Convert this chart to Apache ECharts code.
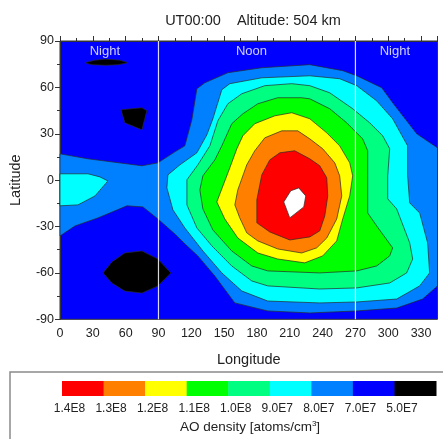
<!DOCTYPE html>
<html>
<head>
<meta charset="utf-8">
<script src="https://cdn.jsdelivr.net/npm/echarts@6/dist/echarts.min.js"></script>
<style>
html,body{margin:0;padding:0;background:#fff;}
#chart{width:443px;height:439px;}
</style>
</head>
<body>
<div id="chart"></div>
<script>
// ---- Data (longitude, latitude) ----
const xTicks = [0, 30, 60, 90, 120, 150, 180, 210, 240, 270, 300, 330];
const yTicks = [-90, -60, -30, 0, 30, 60, 90];
const legendLabels = ['1.4E8', '1.3E8', '1.2E8', '1.1E8', '1.0E8', '9.0E7', '8.0E7', '7.0E7', '5.0E7'];
const legendColors = ['#ff0000', '#ff8000', '#ffff00', '#00ff00', '#00ff80', '#00ffff', '#0080ff', '#0000ff', '#000000'];
const terminatorLons = [90, 270];
const regionLabels = [['Night', 41, 83], ['Noon', 175, 83], ['Night', 306, 83]];

// contour regions (outer to inner)
const contour8E7 = [[0,17.0],[25.6,13.8],[74.9,9.3],[89.5,11.2],[105,18.3],[114.1,22.2],[120.5,39.0],[125.1,59.1],[132.4,63.0],[153.4,69.5],[184.4,72.7],[228.3,74.7],[258.4,70.8],[271.2,67.5],[294,59.8],[304,50.1],[326,30.0],[345,20.9],[345,-68.4],[331.4,-76.9],[307.7,-82.7],[271.2,-84.6],[228.3,-85.9],[189.9,-84.6],[159.8,-79.4],[141.5,-62.0],[126,-49.0],[114.1,-41.2],[105,-34.8],[89.5,-25.1],[75.8,-17.3],[61.2,-16.6],[34.7,-24.4],[13.7,-29.6],[0,-36.1]];
const contour9E7West = [[0,4.1],[25.6,4.1],[36.5,2.1],[43.8,-0.5],[32,-10.2],[16.4,-16],[0,-16.6]];
const contour9E7 = [[155.2,62.4],[147.9,58.5],[139.7,39.7],[134.2,29.3],[125.1,17.7],[109.6,9.9],[98.6,3.4],[97.7,-5.0],[103.2,-19.2],[114.1,-30.9],[130.6,-45.8],[147.9,-60.0],[166.2,-71.7],[189.9,-78.2],[237.4,-79.4],[271.2,-78.8],[307.7,-76.9],[328.7,-68.4],[337.8,-60],[336,-40.6],[328.7,-21.2],[319.6,-14.7],[317.7,2.8],[317.7,22.2],[304,39.7],[289.4,51.3],[271.2,61.1],[255.6,65.6],[228.3,67.5],[184.4,66.2]];
const contour10E7 = [[166.2,55.9],[153.4,49.4],[144.3,38.4],[137,22.2],[126,9.9],[116,0.2],[116,-16.0],[125.1,-30.9],[138.8,-42.5],[157,-55.5],[175.3,-65.2],[189.9,-68.4],[237.4,-70.4],[271.2,-69.7],[301.3,-66.5],[316.8,-60],[322.3,-51.0],[319.6,-40.6],[307.7,-18.6],[299.5,-12.1],[299.5,2.8],[301.3,20.3],[294.9,28.7],[283,37.1],[267.5,46.2],[246.5,56.5],[228.3,61.1],[211.8,62.4],[187.2,61.1]];
const contour11E7 = [[180.8,49.4],[167.1,42.9],[157,36.5],[147.9,22.2],[141.5,13.1],[130.6,2.8],[127.8,-6.3],[130.6,-18.6],[139.7,-32.2],[157,-45.8],[175.3,-55.5],[189.9,-58.7],[237.4,-60],[271.2,-58.7],[289.4,-55.5],[301.3,-49.0],[304,-43.8],[289.4,-29.6],[281.2,-21.2],[281.2,2.8],[281.2,19.0],[276.6,26.7],[262,37.1],[246.5,46.2],[228.3,52.6],[220.9,53.3],[199,53.3]];
const contour12E7 = [[178,36.5],[167.1,28.7],[161.6,20.3],[155.2,8.0],[143.3,-14.1],[150.6,-25.1],[162.5,-37.4],[180.8,-47.1],[199,-51.0],[223.7,-53.5],[240.1,-49.0],[252.9,-39.3],[258.4,-25.1],[264.8,-10.2],[267.5,2.8],[264.8,11.2],[255.6,22.2],[243.8,30.6],[228.3,39.7],[211.8,43.6],[196.3,41.6]];
const contour13E7 = [[187.2,27.4],[178,19.0],[170.7,9.9],[162.5,-6.3],[159.8,-16.0],[164.3,-24.4],[170.7,-34.1],[180.8,-39.3],[199,-44.5],[220.9,-47.1],[234.6,-43.8],[243.8,-37.4],[252.9,-25.1],[257.5,-10.2],[255.6,2.8],[251.1,11.2],[240.1,20.3],[228.3,26.7],[217.3,31.9],[202.7,31.9]];
const contour14E7 = [[200.9,17.7],[191.7,13.1],[184.4,3.4],[179.9,-12.8],[179.9,-27.6],[191.7,-33.5],[210,-38.7],[228.3,-36.7],[237.4,-32.8],[242,-23.1],[244.7,-10.2],[243.8,1.5],[237.4,9.3],[228.3,13.8],[214.5,19.0]];
const contourMax = [[204.5,-14.1],[210.9,-6.9],[218.2,-5.0],[224.6,-10.2],[222.8,-17.3],[210,-24.4]];
const lowNorth = [[22.8,75.9],[32,77.6],[42,78.2],[54.8,77.6],[62.1,75.9],[53,74.7],[42,74.3],[29.2,74.7]];
const lowMid = [[55.7,45.5],[74.9,46.8],[79.4,44.9],[74.9,32.6],[59.3,37.1]];
const lowSouth = [[39.3,-60],[47.5,-52.9],[59.3,-47.1],[74.9,-45.8],[89.5,-51.0],[101.3,-60],[89.5,-68.4],[74.9,-73],[59.3,-71.7],[47.5,-66.5]];

const polygons = [
  [contour8E7, '#0080ff'],
  [contour9E7West, '#00ffff'],
  [contour9E7, '#00ffff'],
  [contour10E7, '#00ff80'],
  [contour11E7, '#00ff00'],
  [contour12E7, '#ffff00'],
  [contour13E7, '#ff8000'],
  [contour14E7, '#ff0000'],
  [contourMax, '#ffffff'],
  [lowNorth, '#000000'],
  [lowMid, '#000000'],
  [lowSouth, '#000000']
];

const chart = echarts.init(document.getElementById('chart'), null, {renderer: 'canvas'});
const FONT = 'Liberation Sans, Arial, sans-serif';

const series = polygons.map(function (p) {
  const pts = p[0];
  return {
    type: 'custom',
    coordinateSystem: 'cartesian2d',
    silent: true,
    data: pts,
    encode: {x: 0, y: 1},
    renderItem: function (params, api) {
      if (params.dataIndex !== 0) return null;
      const points = pts.map(function (d) { return api.coord(d); });
      return {
        type: 'polygon',
        shape: {points: points},
        style: {fill: p[1], stroke: '#2a2a2a', lineWidth: 0.7}
      };
    }
  };
});

// terminator lines
series.push({
  type: 'custom',
  coordinateSystem: 'cartesian2d',
  silent: true,
  data: terminatorLons.map(function (l) { return [l, 0]; }),
  renderItem: function (params, api) {
    const lon = api.value(0);
    const a = api.coord([lon, 90]);
    const b = api.coord([lon, -90]);
    return {type: 'line', shape: {x1: a[0], y1: a[1], x2: b[0], y2: b[1]},
      style: {stroke: 'rgba(255,255,255,0.85)', lineWidth: 1.2}};
  }
});

// Night / Noon labels
series.push({
  type: 'scatter',
  silent: true,
  symbolSize: 0,
  data: regionLabels.map(function (r) { return {value: [r[1], r[2]], name: r[0]}; }),
  label: {show: true, position: 'inside', formatter: '{b}', color: '#ffffff', fontSize: 13, fontFamily: FONT}
});

// colour bar graphics
const barLeft = 62, barRight = 436, barTop = 381, barH = 15;
const bw = (barRight - barLeft) / legendColors.length;
const graphics = [
  {type: 'rect', shape: {x: 10, y: 372, width: 440, height: 80}, style: {fill: 'none', stroke: '#8a8a8a', lineWidth: 1.5}}
];
legendColors.forEach(function (c, i) {
  graphics.push({type: 'rect', shape: {x: barLeft + i * bw, y: barTop, width: bw + 0.5, height: barH}, style: {fill: c}});
  graphics.push({type: 'text', x: barLeft + i * bw + 7.5, y: 409,
    style: {text: legendLabels[i], fill: '#222', font: '12px ' + FONT, textAlign: 'center', textVerticalAlign: 'middle'}});
});
graphics.push({type: 'text', x: 250, y: 427,
  style: {text: 'AO density [atoms/cm{s|3}]', rich: {s: {fontSize: 8, verticalAlign: 'top', padding: [0, 0, 7, 0], fill: '#222'}},
    fill: '#222', font: '13.5px ' + FONT, textAlign: 'center', textVerticalAlign: 'middle'}});

const axisLineStyle = {color: '#333', width: 1};
chart.setOption({
  animation: false,
  title: {
    text: 'UT00:00    Altitude: 504 km',
    left: 248, top: 8, textAlign: 'center',
    textStyle: {fontSize: 14.5, fontWeight: 'normal', color: '#222', fontFamily: FONT}
  },
  grid: {left: 60, right: 5.5, top: 41, bottom: 119.7, show: true, backgroundColor: '#0000ff', borderColor: '#333', borderWidth: 1},
  xAxis: [{
    type: 'value', min: 0, max: 345, interval: 30,
    name: 'Longitude', nameLocation: 'middle', nameGap: 33,
    nameTextStyle: {fontSize: 14.5, color: '#222', fontFamily: FONT},
    axisLine: {show: true, lineStyle: axisLineStyle},
    axisTick: {show: true, inside: false, length: 5, lineStyle: axisLineStyle},
    minorTick: {show: true, splitNumber: 2, length: 3, lineStyle: axisLineStyle},
    axisLabel: {fontSize: 12.5, color: '#222', fontFamily: FONT, margin: 8,
      formatter: function (v) { return xTicks.indexOf(v) >= 0 ? String(v) : ''; }},
    splitLine: {show: false}
  }, {
    type: 'value', position: 'top', min: 0, max: 345, interval: 30,
    axisLine: {show: true, lineStyle: axisLineStyle},
    axisTick: {show: true, inside: false, length: 5, lineStyle: axisLineStyle},
    minorTick: {show: true, splitNumber: 2, length: 3, lineStyle: axisLineStyle},
    axisLabel: {show: false}, splitLine: {show: false}
  }],
  yAxis: [{
    type: 'value', min: -90, max: 90, interval: 30,
    name: 'Latitude', nameLocation: 'middle', nameGap: 37, nameRotate: 90,
    nameTextStyle: {fontSize: 14.5, color: '#222', fontFamily: FONT},
    axisLine: {show: true, lineStyle: axisLineStyle},
    axisTick: {show: true, inside: false, length: 5, lineStyle: axisLineStyle},
    minorTick: {show: true, splitNumber: 2, length: 3, lineStyle: axisLineStyle},
    axisLabel: {fontSize: 12.5, color: '#222', fontFamily: FONT, margin: 6,
      formatter: function (v) { return yTicks.indexOf(v) >= 0 ? String(v) : ''; }},
    splitLine: {show: false}
  }],
  graphic: graphics,
  series: series
});
</script>
</body>
</html>
